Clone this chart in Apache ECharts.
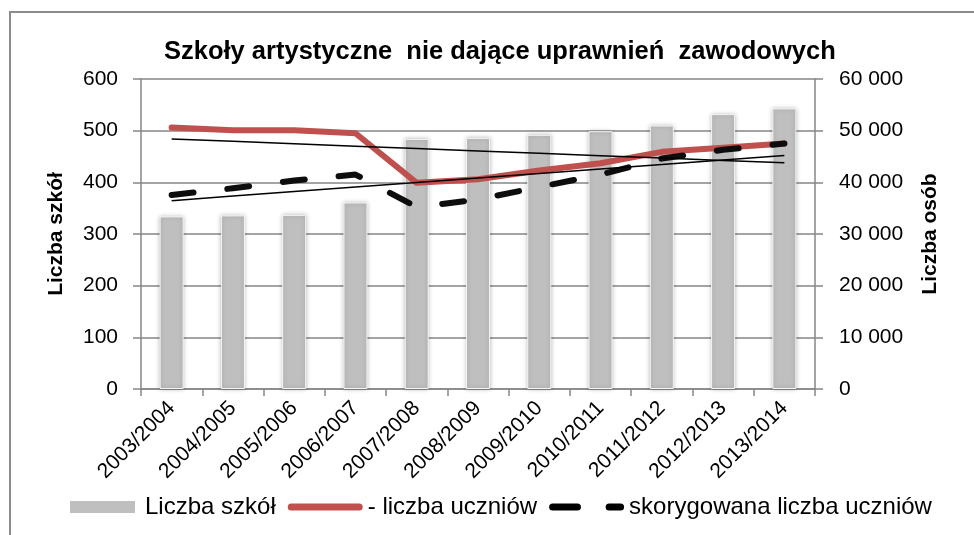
<!DOCTYPE html>
<html>
<head>
<meta charset="utf-8">
<script src="https://cdn.jsdelivr.net/npm/echarts@6/dist/echarts.min.js"></script>
<style>
html,body{margin:0;padding:0;background:#fff;}
#chart{width:974px;height:535px;}
</style>
</head>
<body>
<div id="chart"></div>
<script>
var categories = ['2003/2004','2004/2005','2005/2006','2006/2007','2007/2008','2008/2009','2009/2010','2010/2011','2011/2012','2012/2013','2013/2014'];
var schools = [334, 336, 337, 361, 484, 486, 492, 499, 510, 532, 543];
var pupils = [50600, 50100, 50100, 49500, 39900, 40600, 42300, 43700, 45900, 46700, 47500];
var pupilsAdjusted = [37550, 38850, 40350, 41500, 35200, 36700, 39100, 41500, 44600, 46300, 47500];
var leftTicks = [0, 100, 200, 300, 400, 500, 600];
var rightTicks = [0, 10000, 20000, 30000, 40000, 50000, 60000];

var titleText = 'Szkoły artystyczne  nie dające uprawnień  zawodowych';
var nameSchools = 'Liczba szkół';
var namePupils = '- liczba uczniów';
var nameAdjusted = 'skorygowana liczba uczniów';

// Excel-style linear trend lines computed from the series (least squares)
function trend(arr) {
  var n = arr.length, sx = 0, sy = 0, sxx = 0, sxy = 0;
  for (var i = 0; i < n; i++) { sx += i; sy += arr[i]; sxx += i * i; sxy += i * arr[i]; }
  var b = (n * sxy - sx * sy) / (n * sxx - sx * sx);
  var a = (sy - b * sx) / n;
  return arr.map(function (_, i) { return a + b * i; });
}
var pupilsTrend = trend(pupils);
var adjustedTrend = trend(pupilsAdjusted);

var FONT = "'Liberation Sans', Arial, sans-serif";
var GRID = '#868686';

var chart = echarts.init(document.getElementById('chart'), null, {renderer: 'canvas'});
chart.setOption({
  animation: false,
  backgroundColor: '#fff',
  textStyle: {fontFamily: FONT, color: '#000'},
  title: {
    text: titleText,
    left: 164,
    top: 39,
    padding: 0,
    textStyle: {fontFamily: FONT, fontWeight: 'bold', fontSize: 25.5, color: '#000'}
  },
  graphic: [{
    type: 'rect',
    shape: {x: 10, y: 12, width: 1000, height: 600},
    style: {fill: 'none', stroke: '#8c8c8c', lineWidth: 2},
    silent: true, z: -1
  }],
  grid: {left: 141, right: 159, top: 79, bottom: 146, containLabel: false},
  legend: {
    left: 70,
    top: 495,
    itemWidth: 75,
    itemHeight: 12,
    itemGap: 12,
    padding: 0,
    textStyle: {fontFamily: FONT, fontSize: 24, color: '#000'},
    data: [
      {name: nameSchools, icon: 'path://M0,0h65v12h-65z', itemStyle: {color: '#bfbfbf', borderWidth: 0, shadowBlur: 0}},
      {name: namePupils, icon: 'path://M3.5,0h68a3.5,3.5 0 0 1 0,7h-68a3.5,3.5 0 0 1 0,-7z', itemStyle: {color: '#c0504d', borderWidth: 0}},
      {name: nameAdjusted, icon: 'path://M3.5,0h24a3.5,3.5 0 0 1 0,7h-24a3.5,3.5 0 0 1 0,-7zM58.5,0h11a3.5,3.5 0 0 1 0,7h-11a3.5,3.5 0 0 1 0,-7z', itemStyle: {color: '#000', borderWidth: 0}}
    ]
  },
  xAxis: {
    type: 'category',
    data: categories,
    boundaryGap: true,
    axisLine: {show: true, lineStyle: {color: GRID, width: 1.5}},
    axisTick: {show: true, length: 7, lineStyle: {color: GRID, width: 1.5}},
    axisLabel: {rotate: 45, interval: 0, margin: 16, fontSize: 21, fontFamily: FONT, color: '#000'},
    splitLine: {show: false}
  },
  yAxis: [{
    type: 'value',
    min: leftTicks[0],
    max: leftTicks[leftTicks.length - 1],
    interval: leftTicks[1] - leftTicks[0],
    position: 'left',
    name: nameSchools,
    nameLocation: 'middle',
    nameRotate: 90,
    nameGap: 74,
    nameTextStyle: {fontFamily: FONT, fontWeight: 'bold', fontSize: 21, color: '#000'},
    axisLine: {show: true, lineStyle: {color: GRID, width: 1.5}},
    axisTick: {show: true, length: 8, lineStyle: {color: GRID, width: 1.5}},
    axisLabel: {margin: 23, fontSize: 21, fontFamily: FONT, color: '#000'},
    splitLine: {show: true, lineStyle: {color: GRID, width: 1.5}}
  }, {
    type: 'value',
    min: rightTicks[0],
    max: rightTicks[rightTicks.length - 1],
    interval: rightTicks[1] - rightTicks[0],
    position: 'right',
    name: 'Liczba osób',
    nameLocation: 'middle',
    nameRotate: 90,
    nameGap: 105,
    nameTextStyle: {fontFamily: FONT, fontWeight: 'bold', fontSize: 21, color: '#000'},
    axisLine: {show: true, lineStyle: {color: GRID, width: 1.5}},
    axisTick: {show: true, length: 8, lineStyle: {color: GRID, width: 1.5}},
    axisLabel: {
      margin: 24, fontSize: 21, fontFamily: FONT, color: '#000',
      formatter: function (v) { return String(v).replace(/\B(?=(\d{3})+(?!\d))/g, ' '); }
    },
    splitLine: {show: false}
  }],
  series: [{
    name: nameSchools,
    type: 'bar',
    yAxisIndex: 0,
    data: schools,
    barWidth: 24,
    itemStyle: {color: '#bfbfbf', borderColor: '#f4f4f4', borderWidth: 1, shadowBlur: 4, shadowColor: 'rgba(0,0,0,0.25)'},
    z: 2
  }, {
    name: namePupils,
    type: 'line',
    yAxisIndex: 1,
    data: pupils,
    symbol: 'none',
    color: '#c0504d',
    lineStyle: {color: '#c0504d', width: 6, join: 'round', cap: 'round'},
    z: 3
  }, {
    name: nameAdjusted,
    type: 'line',
    yAxisIndex: 1,
    data: pupilsAdjusted,
    symbol: 'none',
    color: '#000',
    lineStyle: {color: '#0d0d0d', width: 6, type: [22, 34], cap: 'round', join: 'round'},
    z: 4
  }, {
    name: 'trend1',
    type: 'line',
    yAxisIndex: 1,
    data: pupilsTrend,
    symbol: 'none',
    silent: true,
    lineStyle: {color: '#000', width: 1.5},
    z: 5
  }, {
    name: 'trend2',
    type: 'line',
    yAxisIndex: 1,
    data: adjustedTrend,
    symbol: 'none',
    silent: true,
    lineStyle: {color: '#000', width: 1.5},
    z: 5
  }]
});
</script>
</body>
</html>
